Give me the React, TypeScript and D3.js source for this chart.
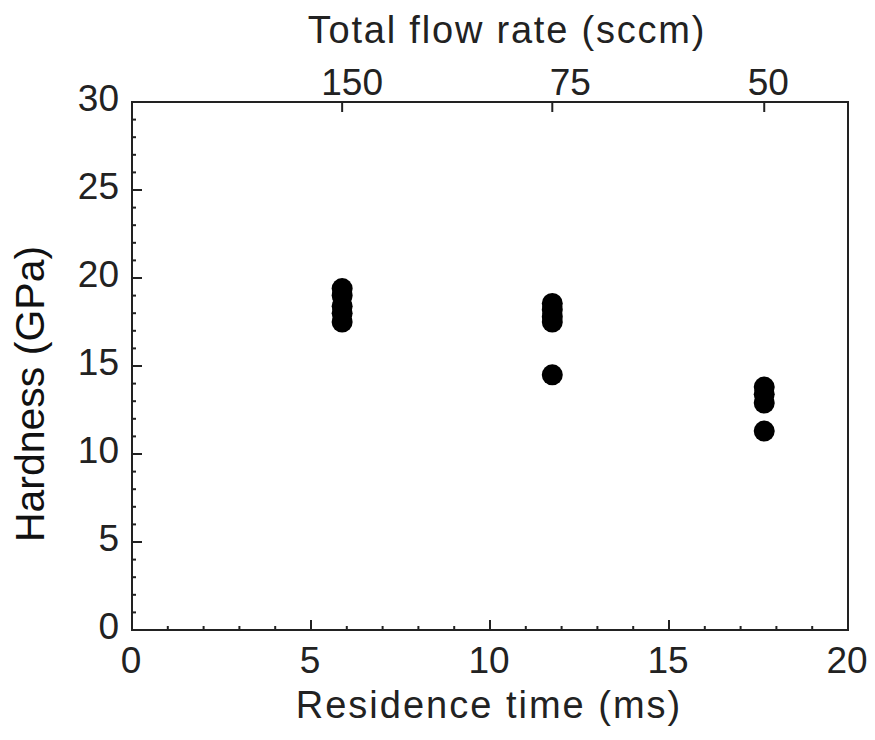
import React from "react";
import * as d3 from "d3";

// Data
const residenceTimes = [5.87, 11.74, 17.66];
const flowRates = ["150", "75", "50"];
const flowLabelOffsets = [10, 18, 4];
const hardnessCluster1 = [19.4, 19.0, 18.4, 18.0, 17.5];
const hardnessCluster2 = [18.55, 18.2, 17.8, 17.5, 14.5];
const hardnessCluster3 = [13.8, 13.4, 12.9, 11.3];
const xTicks = [0, 5, 10, 15, 20];
const yTicks = [0, 5, 10, 15, 20, 25, 30];

const W = 875;
const H = 740;
const M = { left: 132, right: 27, top: 102, bottom: 110 };

export default function App() {
  const x = d3.scaleLinear().domain([0, 20]).range([M.left, W - M.right]);
  const y = d3.scaleLinear().domain([0, 30]).range([H - M.bottom, M.top]);
  const clusters = [hardnessCluster1, hardnessCluster2, hardnessCluster3];
  const points = clusters.flatMap((vals, i) =>
    vals.map((v) => ({ t: residenceTimes[i], h: v }))
  );
  const xMinor = d3.range(0, 21, 1).filter((v) => v % 5 !== 0);
  const yMinor = d3.range(0, 31, 1).filter((v) => v % 5 !== 0);
  const axisColor = "#222";
  const font = "'Liberation Sans', Arial, sans-serif";
  const x0 = x(0), x1 = x(20), y0 = y(0), y1 = y(30);

  return (
    <svg
      width={W}
      height={H}
      style={{ position: "absolute", left: 0, top: 0, background: "#fff" }}
      fontFamily={font}
    >
      <rect x={0} y={0} width={W} height={H} fill="#fff" />
      {/* frame */}
      <rect
        x={x0}
        y={y1}
        width={x1 - x0}
        height={y0 - y1}
        fill="none"
        stroke={axisColor}
        strokeWidth={2}
      />
      {/* y ticks */}
      {yTicks.map((t) => (
        <line key={"ym" + t} x1={x0} x2={x0 + 10} y1={y(t)} y2={y(t)} stroke={axisColor} strokeWidth={2} />
      ))}
      {yMinor.map((t) => (
        <line key={"yn" + t} x1={x0} x2={x0 + 4} y1={y(t)} y2={y(t)} stroke={axisColor} strokeWidth={2} />
      ))}
      {/* x ticks */}
      {xTicks.map((t) => (
        <line key={"xm" + t} x1={x(t)} x2={x(t)} y1={y0} y2={y0 - 10} stroke={axisColor} strokeWidth={2} />
      ))}
      {xMinor.map((t) => (
        <line key={"xn" + t} x1={x(t)} x2={x(t)} y1={y0} y2={y0 - 4} stroke={axisColor} strokeWidth={2} />
      ))}
      {/* top ticks */}
      {residenceTimes.map((t, i) => (
        <line key={"tt" + i} x1={x(t)} x2={x(t)} y1={y1} y2={y1 + 10} stroke={axisColor} strokeWidth={2} />
      ))}
      {/* y tick labels */}
      {yTicks.map((t) => (
        <text key={"yl" + t} x={x0 - 13} y={y(t) + 9} textAnchor="end" fontSize={37} fill="#222">
          {t}
        </text>
      ))}
      {/* x tick labels */}
      {xTicks.map((t) => (
        <text key={"xl" + t} x={x(t) - 1} y={y0 + 43} textAnchor="middle" fontSize={37} fill="#222">
          {t}
        </text>
      ))}
      {/* top tick labels */}
      {residenceTimes.map((t, i) => (
        <text
          key={"tl" + i}
          x={x(t) + flowLabelOffsets[i]}
          y={95}
          textAnchor="middle"
          fontSize={37}
          fill="#222"
        >
          {flowRates[i]}
        </text>
      ))}
      {/* titles */}
      <text x={507} y={43} textAnchor="middle" fontSize={38} letterSpacing={1.8} fill="#222">
        Total flow rate (sccm)
      </text>
      <text x={489} y={718} textAnchor="middle" fontSize={38} letterSpacing={2} fill="#222">
        Residence time (ms)
      </text>
      <text
        transform={`translate(44, ${y(15) + 28}) rotate(-90)`}
        textAnchor="middle"
        fontSize={41}
        fill="#111"
      >
        Hardness (GPa)
      </text>
      {/* points */}
      {points.map((p, i) => (
        <circle key={"p" + i} cx={x(p.t)} cy={y(p.h)} r={10.5} fill="#000" />
      ))}
    </svg>
  );
}
